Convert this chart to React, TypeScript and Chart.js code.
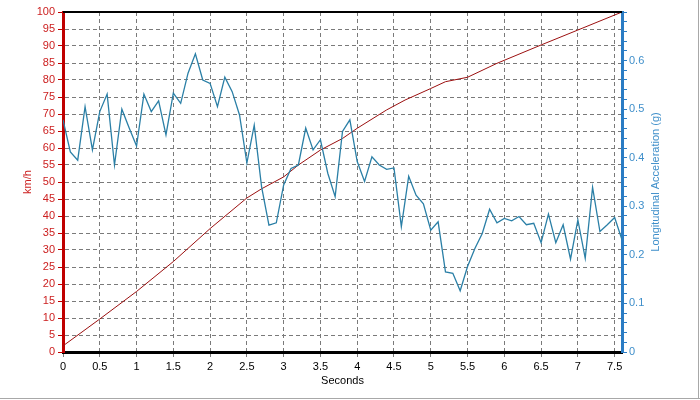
import React, { useEffect, useRef } from "react";
import { Chart, registerables } from "chart.js";

Chart.register(...registerables);

const speedTimes = [0, 0.5, 1.0, 1.5, 2.0, 2.5, 2.7, 3.0, 3.2, 3.5, 3.8, 4.0, 4.4, 4.65, 5.0, 5.2, 5.5, 5.9, 6.5, 7.0, 7.6];
const speedValues = [1.8, 9.7, 17.8, 26.6, 36.3, 45.3, 48.0, 51.5, 55.0, 59.4, 62.8, 65.8, 71.2, 74.1, 77.5, 79.5, 80.8, 84.9, 90.3, 94.7, 100];

const accelTimes = [
  0.0, 0.1, 0.2, 0.3, 0.4, 0.5, 0.6, 0.7, 0.8, 0.9,
  1.0, 1.1, 1.2, 1.3, 1.4, 1.5, 1.6, 1.7, 1.8, 1.9,
  2.0, 2.1, 2.2, 2.3, 2.4, 2.5, 2.6, 2.7, 2.8, 2.9,
  3.0, 3.1, 3.2, 3.3, 3.4, 3.5, 3.6, 3.7, 3.8, 3.9,
  4.0, 4.1, 4.2, 4.3, 4.4, 4.5, 4.6, 4.7, 4.8, 4.9,
  5.0, 5.1, 5.2, 5.3, 5.4, 5.5, 5.6, 5.7, 5.8, 5.9,
  6.0, 6.1, 6.2, 6.3, 6.4, 6.5, 6.6, 6.7, 6.8, 6.9,
  7.0, 7.1, 7.2, 7.3, 7.4, 7.5, 7.6,
];
const accelValues = [
  0.478, 0.412, 0.395, 0.505, 0.416, 0.495, 0.531, 0.385, 0.500, 0.461,
  0.424, 0.531, 0.495, 0.517, 0.447, 0.533, 0.512, 0.574, 0.614, 0.560,
  0.553, 0.505, 0.566, 0.536, 0.488, 0.389, 0.467, 0.340, 0.261, 0.266,
  0.344, 0.378, 0.385, 0.461, 0.416, 0.437, 0.368, 0.320, 0.454, 0.478,
  0.392, 0.351, 0.402, 0.385, 0.376, 0.379, 0.258, 0.362, 0.323, 0.305,
  0.251, 0.268, 0.165, 0.162, 0.126, 0.176, 0.213, 0.244, 0.294, 0.266,
  0.275, 0.270, 0.279, 0.262, 0.265, 0.225, 0.284, 0.225, 0.262, 0.191,
  0.272, 0.193, 0.339, 0.248, 0.262, 0.277, 0.231,
];

const xTitle = "Seconds";
const leftTitle = "km/h";
const rightTitle = "Longitudinal Acceleration (g)";

const FONT = "'Liberation Sans', Arial, sans-serif";
const RED_AXIS = "#c00000";
const RED_TEXT = "#cc2020";
const RED_LINE = "#9c1010";
const BLUE_AXIS = "#2a7cc4";
const BLUE_TEXT = "#3f8fca";
const BLUE_LINE = "#2a7fa6";
const GRID = "#7a7a7a";

const titlesPlugin = {
  id: "customTitles",
  beforeDraw(chart: any) {
    const ctx = chart.ctx;
    ctx.save();
    ctx.fillStyle = "#ffffff";
    ctx.fillRect(0, 0, chart.width, chart.height);
    ctx.restore();
  },
  afterDraw(chart: any) {
    const ctx = chart.ctx;
    const area = chart.chartArea;
    const cy = (area.top + area.bottom) / 2;
    const cx = (area.left + area.right) / 2;
    ctx.save();
    ctx.font = `11px ${FONT}`;
    ctx.textAlign = "center";
    ctx.textBaseline = "middle";
    ctx.save();
    ctx.translate(28, cy);
    ctx.rotate(-Math.PI / 2);
    ctx.fillStyle = RED_TEXT;
    ctx.fillText(leftTitle, 0, 0);
    ctx.restore();
    ctx.save();
    ctx.translate(656, cy);
    ctx.rotate(-Math.PI / 2);
    ctx.fillStyle = BLUE_TEXT;
    ctx.fillText(rightTitle, 0, 0);
    ctx.restore();
    ctx.fillStyle = "#000000";
    ctx.fillText(xTitle, cx, 381);
    ctx.strokeStyle = "#000000";
    ctx.lineWidth = 2;
    ctx.beginPath();
    ctx.moveTo(area.left, area.top);
    ctx.lineTo(area.right, area.top);
    ctx.stroke();
    ctx.strokeStyle = "#a8a8a8";
    ctx.lineWidth = 1;
    ctx.beginPath();
    ctx.moveTo(0, 398.5);
    ctx.lineTo(chart.width, 398.5);
    ctx.moveTo(698.5, 0);
    ctx.lineTo(698.5, 399);
    ctx.stroke();
    ctx.restore();
  },
};

export default function App() {
  const canvasRef = useRef<HTMLCanvasElement | null>(null);

  useEffect(() => {
    if (!canvasRef.current) return;
    const chart = new Chart(canvasRef.current, {
      type: "line",
      data: {
        datasets: [
          {
            label: "Longitudinal Acceleration (g)",
            data: accelTimes.map((t, i) => ({ x: t, y: accelValues[i] })),
            borderColor: BLUE_LINE,
            borderWidth: 1.3,
            pointRadius: 0,
            tension: 0,
            yAxisID: "y2",
          },
          {
            label: "km/h",
            data: speedTimes.map((t, i) => ({ x: t, y: speedValues[i] })),
            borderColor: RED_LINE,
            borderWidth: 1,
            pointRadius: 0,
            tension: 0,
            yAxisID: "y",
          },
        ],
      },
      options: {
        responsive: false,
        animation: false,
        devicePixelRatio: 1,
        layout: { padding: { top: 12, left: 0, right: 0, bottom: 0 } },
        plugins: {
          legend: { display: false },
          tooltip: { enabled: false },
        },
        scales: {
          x: {
            type: "linear",
            min: 0,
            max: 7.6,
            afterFit: (s: any) => {
              s.height = 48;
            },
            ticks: {
              stepSize: 0.5,
              includeBounds: false,
              autoSkip: false,
              maxRotation: 0,
              color: "#000000",
              padding: 3,
              font: { family: FONT, size: 11 },
              callback: (v: any) => String(Math.round(Number(v) * 10) / 10),
            },
            grid: {
              color: GRID,
              lineWidth: 1,
              tickLength: 5,
              tickColor: GRID,
            },
            border: { display: true, color: "#000000", width: 3, dash: [4, 3] },
          },
          y: {
            type: "linear",
            position: "left",
            min: 0,
            max: 100,
            afterFit: (s: any) => {
              s.width = 63;
            },
            ticks: {
              stepSize: 5,
              autoSkip: false,
              color: RED_TEXT,
              padding: 3,
              font: { family: FONT, size: 11 },
            },
            grid: {
              color: GRID,
              lineWidth: 1,
              tickLength: 5,
              tickColor: RED_AXIS,
            },
            border: { display: true, color: RED_AXIS, width: 3, dash: [4, 3] },
          },
          y2: {
            type: "linear",
            position: "right",
            min: 0,
            max: 0.7,
            afterFit: (s: any) => {
              s.width = 78;
            },
            ticks: {
              stepSize: 0.02,
              autoSkip: false,
              color: BLUE_TEXT,
              padding: 2,
              font: { family: FONT, size: 11 },
              callback: (v: any) => {
                const n = Number(v);
                const r = Math.round(n * 10);
                if (Math.abs(n * 10 - r) > 1e-6 || r > 6) return "";
                return r === 0 ? "0" : (r / 10).toFixed(1);
              },
            },
            grid: {
              drawOnChartArea: false,
              tickLength: 5,
              tickColor: BLUE_AXIS,
              color: BLUE_AXIS,
            },
            border: { display: true, color: BLUE_AXIS, width: 3 },
          },
        },
      },
      plugins: [titlesPlugin],
    } as any);
    return () => chart.destroy();
  }, []);

  return (
    <div style={{ position: "fixed", left: 0, top: 0, width: 700, height: 400, background: "#fff" }}>
      <canvas ref={canvasRef} width={700} height={400} style={{ width: 700, height: 400, display: "block" }} />
    </div>
  );
}
